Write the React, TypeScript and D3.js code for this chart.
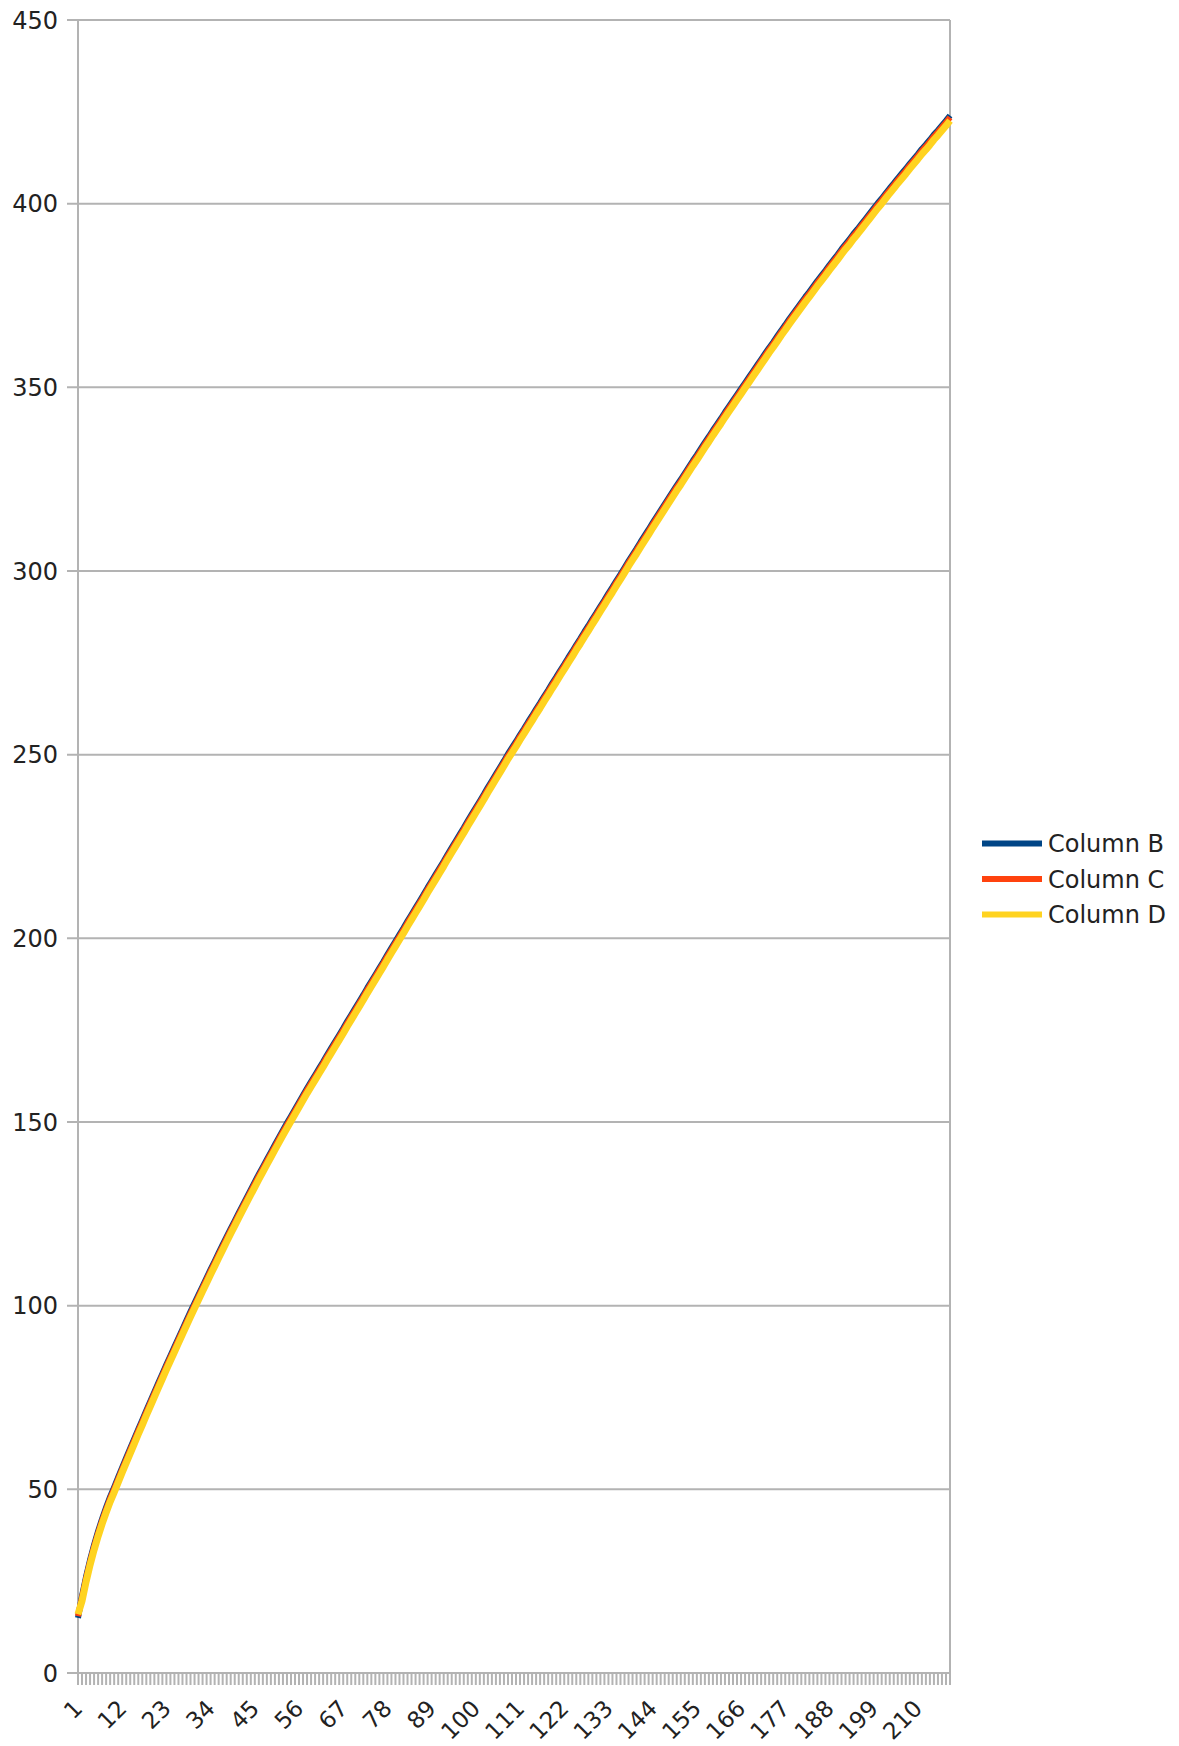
import React from "react";
import * as d3 from "d3";

const seriesNames = ["Column B", "Column C", "Column D"];
const seriesColors = ["#004586", "#ff420e", "#ffd320"];

const columnB = [
  15, 21, 26.2, 30.8, 34.9, 38.6, 42.0, 45.1, 48.0, 50.6,
  53.3, 56.0, 58.6, 61.2, 63.8, 66.4, 68.9, 71.5, 74.0, 76.5,
  79.0, 81.5, 84.0, 86.4, 88.8, 91.2, 93.6, 96.0, 98.4, 100.7,
  103.0, 105.3, 107.6, 109.9, 112.1, 114.4, 116.6, 118.8, 121.0, 123.1,
  125.3, 127.4, 129.5, 131.6, 133.7, 135.8, 137.8, 139.8, 141.8, 143.8,
  145.8, 147.8, 149.7, 151.6, 153.5, 155.4, 157.3, 159.2, 161.0, 162.8,
  164.6, 166.4, 168.3, 170.1, 171.9, 173.7, 175.5, 177.4, 179.2, 181.0,
  182.8, 184.6, 186.5, 188.3, 190.1, 191.9, 193.7, 195.6, 197.4, 199.2,
  201.0, 202.8, 204.7, 206.5, 208.3, 210.1, 211.9, 213.8, 215.6, 217.4,
  219.2, 221.0, 222.9, 224.7, 226.5, 228.3, 230.1, 232.0, 233.8, 235.6,
  237.4, 239.2, 241.1, 242.9, 244.7, 246.5, 248.3, 250.2, 251.9, 253.6,
  255.4, 257.1, 258.9, 260.6, 262.4, 264.1, 265.9, 267.6, 269.4, 271.1,
  272.9, 274.6, 276.4, 278.1, 279.9, 281.6, 283.4, 285.1, 286.9, 288.6,
  290.4, 292.1, 293.9, 295.6, 297.4, 299.1, 300.9, 302.7, 304.4, 306.1,
  307.9, 309.6, 311.3, 313.1, 314.8, 316.5, 318.2, 319.9, 321.6, 323.3,
  324.9, 326.6, 328.3, 330.0, 331.6, 333.3, 335.0, 336.6, 338.3, 339.9,
  341.5, 343.2, 344.8, 346.4, 348.0, 349.6, 351.2, 352.8, 354.4, 356.0,
  357.6, 359.2, 360.8, 362.3, 363.9, 365.5, 367.0, 368.6, 370.1, 371.6,
  373.1, 374.6, 376.0, 377.5, 379.0, 380.4, 381.8, 383.3, 384.7, 386.1,
  387.6, 389.0, 390.3, 391.8, 393.1, 394.5, 395.9, 397.3, 398.7, 400.1,
  401.4, 402.8, 404.2, 405.5, 406.9, 408.2, 409.5, 410.9, 412.2, 413.5,
  414.9, 416.1, 417.4, 418.8, 420.0, 421.3, 422.6, 424.0,
];

const columnC = [
  15.5, 20.5, 25.7, 30.3, 34.4, 38.1, 41.5, 44.6, 47.5, 50.1,
  52.8, 55.5, 58.1, 60.7, 63.3, 65.9, 68.4, 71.0, 73.5, 76.0,
  78.5, 81.0, 83.5, 85.9, 88.3, 90.7, 93.1, 95.5, 97.9, 100.2,
  102.5, 104.8, 107.1, 109.4, 111.6, 113.9, 116.1, 118.3, 120.5, 122.6,
  124.8, 126.9, 129.0, 131.1, 133.2, 135.3, 137.3, 139.3, 141.3, 143.3,
  145.3, 147.3, 149.2, 151.1, 153.0, 154.9, 156.8, 158.7, 160.5, 162.3,
  164.1, 165.9, 167.8, 169.6, 171.4, 173.2, 175.0, 176.9, 178.7, 180.5,
  182.3, 184.1, 186.0, 187.8, 189.6, 191.4, 193.2, 195.1, 196.9, 198.7,
  200.5, 202.3, 204.2, 206.0, 207.8, 209.6, 211.4, 213.3, 215.1, 216.9,
  218.7, 220.5, 222.4, 224.2, 226.0, 227.8, 229.6, 231.5, 233.3, 235.1,
  236.9, 238.7, 240.6, 242.4, 244.2, 246.0, 247.8, 249.7, 251.4, 253.1,
  254.9, 256.6, 258.4, 260.1, 261.9, 263.6, 265.4, 267.1, 268.9, 270.6,
  272.4, 274.1, 275.9, 277.6, 279.4, 281.1, 282.9, 284.6, 286.4, 288.1,
  289.9, 291.6, 293.4, 295.1, 296.9, 298.6, 300.4, 302.2, 303.9, 305.6,
  307.4, 309.1, 310.8, 312.6, 314.3, 316, 317.7, 319.4, 321.1, 322.8,
  324.4, 326.1, 327.8, 329.5, 331.1, 332.8, 334.5, 336.1, 337.8, 339.4,
  341, 342.7, 344.3, 345.9, 347.5, 349.1, 350.7, 352.3, 353.9, 355.5,
  357.1, 358.7, 360.3, 361.8, 363.4, 365, 366.5, 368.1, 369.6, 371.1,
  372.6, 374.1, 375.5, 377, 378.5, 379.9, 381.3, 382.8, 384.2, 385.6,
  387.1, 388.5, 389.8, 391.3, 392.6, 394, 395.4, 396.8, 398.2, 399.6,
  400.9, 402.3, 403.7, 405, 406.4, 407.7, 409, 410.4, 411.7, 413,
  414.4, 415.6, 416.9, 418.3, 419.5, 420.8, 422.1, 423.5,
];

const columnD = [
  16, 19.6, 24.8, 29.4, 33.5, 37.2, 40.6, 43.7, 46.6, 49.2,
  51.9, 54.6, 57.2, 59.8, 62.4, 65.0, 67.5, 70.1, 72.6, 75.1,
  77.6, 80.1, 82.6, 85.0, 87.4, 89.8, 92.2, 94.6, 97.0, 99.3,
  101.6, 103.9, 106.2, 108.5, 110.7, 113.0, 115.2, 117.4, 119.6, 121.7,
  123.9, 126.0, 128.1, 130.2, 132.3, 134.4, 136.4, 138.4, 140.4, 142.4,
  144.4, 146.4, 148.3, 150.2, 152.1, 154.0, 155.9, 157.8, 159.6, 161.4,
  163.2, 165.0, 166.9, 168.7, 170.5, 172.3, 174.1, 176.0, 177.8, 179.6,
  181.4, 183.2, 185.1, 186.9, 188.7, 190.5, 192.3, 194.2, 196.0, 197.8,
  199.6, 201.4, 203.3, 205.1, 206.9, 208.7, 210.5, 212.4, 214.2, 216.0,
  217.8, 219.6, 221.5, 223.3, 225.1, 226.9, 228.7, 230.6, 232.4, 234.2,
  236.0, 237.8, 239.7, 241.5, 243.3, 245.1, 246.9, 248.8, 250.5, 252.2,
  254, 255.7, 257.5, 259.2, 261, 262.7, 264.5, 266.2, 268, 269.7,
  271.5, 273.2, 275, 276.7, 278.5, 280.2, 282, 283.7, 285.5, 287.2,
  289, 290.7, 292.5, 294.2, 296, 297.7, 299.5, 301.3, 303, 304.7,
  306.5, 308.2, 309.9, 311.7, 313.4, 315.1, 316.8, 318.5, 320.2, 321.9,
  323.5, 325.2, 326.9, 328.6, 330.2, 331.9, 333.6, 335.2, 336.9, 338.5,
  340.1, 341.8, 343.4, 345, 346.6, 348.2, 349.8, 351.4, 353, 354.6,
  356.2, 357.8, 359.4, 360.9, 362.5, 364.1, 365.6, 367.2, 368.7, 370.2,
  371.7, 373.2, 374.6, 376.1, 377.6, 379, 380.4, 381.9, 383.3, 384.7,
  386.2, 387.6, 388.9, 390.4, 391.7, 393.1, 394.5, 395.9, 397.3, 398.7,
  400, 401.4, 402.8, 404.1, 405.5, 406.8, 408.1, 409.5, 410.8, 412.1,
  413.5, 414.7, 416, 417.4, 418.6, 419.9, 421.2, 422.6,
];

const yTickValues = [0, 50, 100, 150, 200, 250, 300, 350, 400, 450];
const xTickLabels = [1, 12, 23, 34, 45, 56, 67, 78, 89, 100, 111, 122, 133, 144, 155, 166, 177, 188, 199, 210];

const W = 1179;
const H = 1746;
const L = 78;
const R = 950;
const T = 20;
const B = 1673;
const FONT = "'DejaVu Sans', Verdana, sans-serif";
const GRID = "#b3b3b3";

export default function App() {
  const series = [columnB, columnC, columnD];
  const n = columnB.length;
  const categories = d3.range(1, n + 1);
  const x = d3.scaleLinear().domain([1, n]).range([L, R]);
  const y = d3.scaleLinear().domain([0, 450]).range([B, T]);
  const line = d3
    .line<number>()
    .x((_, i) => x(categories[i]))
    .y((d) => y(d));
  const widths = [6, 6, 7];
  const legendY = [843.5, 879, 914.5];

  return (
    <svg
      width={W}
      height={H}
      viewBox={`0 0 ${W} ${H}`}
      style={{ position: "absolute", left: 0, top: 0, background: "#fff" }}
    >
      <rect x={0} y={0} width={W} height={H} fill="#fff" />
      {yTickValues.map((v) => (
        <line key={"g" + v} x1={L - 11} x2={R} y1={y(v)} y2={y(v)} stroke={GRID} strokeWidth={2} />
      ))}
      <line x1={L} x2={L} y1={T} y2={B + 12} stroke={GRID} strokeWidth={2} />
      <line x1={R} x2={R} y1={T} y2={B + 12} stroke={GRID} strokeWidth={2} />
      {categories.map((c) => (
        <line key={"t" + c} x1={x(c)} x2={x(c)} y1={B} y2={B + 12} stroke={GRID} strokeWidth={2} />
      ))}
      {yTickValues.map((v) => (
        <text
          key={"yl" + v}
          x={58}
          y={y(v)}
          dy="0.36em"
          textAnchor="end"
          fontFamily={FONT}
          fontSize={24}
          fill="#222"
        >
          {v}
        </text>
      ))}
      {xTickLabels.map((c) => (
        <text
          key={"xl" + c}
          transform={`translate(${x(c)},${1704}) rotate(-45)`}
          dy="0.36em"
          textAnchor="end"
          fontFamily={FONT}
          fontSize={23}
          fill="#222"
        >
          {c}
        </text>
      ))}
      {series.map((s, i) => (
        <path
          key={"s" + i}
          d={line(s) || ""}
          fill="none"
          stroke={seriesColors[i]}
          strokeWidth={widths[i]}
          strokeLinejoin="round"
        />
      ))}
      {seriesNames.map((name, i) => (
        <g key={"lg" + i}>
          <line x1={982} x2={1042} y1={legendY[i]} y2={legendY[i]} stroke={seriesColors[i]} strokeWidth={6} />
          <text x={1048} y={legendY[i]} dy="0.36em" fontFamily={FONT} fontSize={24} fill="#222">
            {name}
          </text>
        </g>
      ))}
    </svg>
  );
}
